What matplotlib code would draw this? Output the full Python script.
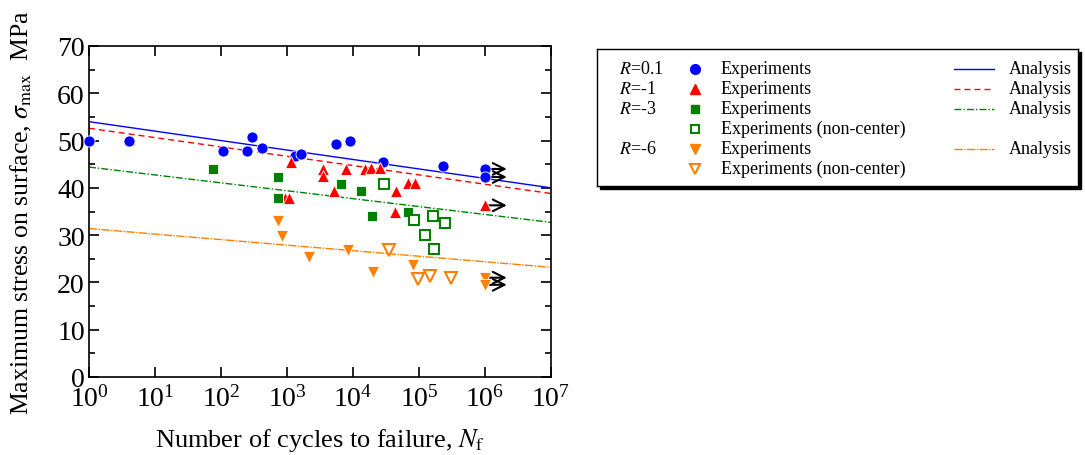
import numpy as np
import matplotlib
matplotlib.use('Agg')
from matplotlib import pyplot as plt
from matplotlib.lines import Line2D
from matplotlib.patches import Rectangle
from matplotlib.ticker import MultipleLocator, LogLocator, LogFormatterMathtext, NullLocator

plt.rcParams['font.family'] = 'Liberation Serif'
plt.rcParams['mathtext.fontset'] = 'stix'

# ---- experiments (cycles, max stress MPa)
r01_n = [1, 4, 108, 250, 295, 415, 1320, 1620, 5450, 9150, 28000, 233000, 1e6, 1e6]
r01_s = [50.0, 50.0, 47.7, 47.7, 50.8, 48.5, 46.8, 47.2, 49.2, 50.0, 45.4, 44.7, 44.0, 42.3]

r1_n = [930, 1070, 1150, 3550, 3550, 5150, 7750, 15100, 18700, 25500, 43700, 44800, 67000, 87000, 1e6]
r1_s = [37.8, 37.8, 45.4, 44.0, 42.6, 39.4, 44.0, 44.0, 44.1, 44.1, 34.9, 39.4, 41.0, 41.0, 36.3]

r3_n = [76, 720, 720, 6500, 13200, 19400, 69000]
r3_s = [43.9, 42.3, 37.8, 40.9, 39.3, 34.0, 34.9]
r3nc_n = [29000, 83000, 123000, 165000, 166000, 250000]
r3nc_s = [40.8, 33.3, 30.1, 34.0, 27.1, 32.6]

r6_n = [740, 850, 2170, 8300, 20000, 80000, 1e6, 1e6]
r6_s = [32.9, 29.9, 25.3, 26.8, 22.3, 23.7, 21.0, 19.5]
r6nc_n = [35000, 95000, 148000, 310000]
r6nc_s = [26.8, 20.7, 21.4, 20.9]

# ---- analysis lines (end points at N=1 and N=1e7)
fit_n = [1, 1e7]
fit_r01 = [54.0, 40.0]
fit_r1 = [52.6, 38.8]
fit_r3 = [44.4, 32.7]
fit_r6 = [31.4, 23.2]

# ---- run-outs
runout_n = 1e6
runout_s = [44.0, 42.3, 36.3, 21.0, 19.5]

blue = '#0000FF'
red = '#FF0000'
green = '#008000'
orange = '#FF8000'

fig = plt.figure(figsize=(10.85, 4.56), dpi=100)
ax = fig.add_axes([89/1085, 1-378/456, (551-89)/1085, (378-47)/456])

ls_r1 = (0, (4.3, 2.9))
ls_r3 = (0, (5, 1.5, 1, 1.5))
ls_r6 = (0, (6, 1, 1, 1))

ax.plot(fit_n, fit_r01, '-', color=blue, lw=1)
ax.plot(fit_n, fit_r1, linestyle=ls_r1, color=red, lw=1)
ax.plot(fit_n, fit_r3, linestyle=ls_r3, color=green, lw=1)
ax.plot(fit_n, fit_r6, linestyle=ls_r6, color=orange, lw=1)

for s in runout_s:
    ax.annotate('', xy=(runout_n*10**0.33, s), xytext=(runout_n, s),
                arrowprops=dict(arrowstyle='->,head_length=0.7,head_width=0.35',
                                color='k', lw=1.5, shrinkA=0, shrinkB=0,
                                mutation_scale=12), zorder=2)

mk = dict(linestyle='none', markeredgewidth=0.6, markeredgecolor='white', zorder=3, clip_on=False)
ax.plot(r01_n, r01_s, 'o', color=blue, markersize=8, **mk)
ax.plot(r1_n, r1_s, '^', color=red, markersize=8.5, **mk)
ax.plot(r3_n, r3_s, 's', color=green, markersize=7, **mk)
ax.plot(r6_n, r6_s, 'v', color=orange, markersize=8.5, **mk)
ax.plot(r3nc_n, r3nc_s, 's', markerfacecolor='white', markeredgecolor=green,
        markeredgewidth=1.5, markersize=6.5, linestyle='none', zorder=3)
ax.plot(r6nc_n, r6nc_s, 'v', markerfacecolor='white', markeredgecolor=orange,
        markeredgewidth=1.5, markersize=8, linestyle='none', zorder=3)

ax.set_xscale('log')
ax.set_xlim(1, 1e7)
ax.set_ylim(0, 70)
ax.xaxis.set_major_locator(LogLocator(base=10, numticks=10))
ax.xaxis.set_major_formatter(LogFormatterMathtext())
ax.xaxis.set_minor_locator(NullLocator())
ax.yaxis.set_major_locator(MultipleLocator(10))
ax.yaxis.set_minor_locator(MultipleLocator(5))
ax.tick_params(which='both', direction='in', top=True, right=True, width=1.2)
ax.tick_params(which='major', length=7.2, labelsize=20)
ax.tick_params(which='minor', length=4.3)
ax.tick_params(axis='x', pad=6)
ax.tick_params(axis='y', pad=3)
for sp in ax.spines.values():
    sp.set_linewidth(1.2)

ax.set_xlabel(r'Number of cycles to failure, $N_{\rm f}$', fontsize=19, labelpad=10)
ax.set_ylabel(r'Maximum stress on surface, $\sigma_{\rm max}$  MPa', fontsize=18.5)
ax.yaxis.set_label_coords(-0.119, 0.5)

# ---- legend box (drawn by hand, with shadow)
L, R_, T, B = 597, 1078, 50, 187
shadow = Rectangle(((L+3)/1085, 1-(B+3)/456), (R_-L)/1085, (B-T)/456,
                   transform=fig.transFigure, facecolor='k', edgecolor='k', zorder=0.5)
fig.patches.append(shadow)
lg = fig.add_axes([L/1085, 1-B/456, (R_-L)/1085, (B-T)/456], zorder=1)
lg.set_xlim(L, R_)
lg.set_ylim(B, T)
lg.set_xticks([])
lg.set_yticks([])
for sp in lg.spines.values():
    sp.set_linewidth(1.0)

rows = [70, 90, 110, 129.5, 149.5, 169.5]
r_labels = ['$R$=0.1', '$R$=-1', '$R$=-3', '', '$R$=-6', '']
exp_labels = ['Experiments', 'Experiments', 'Experiments', 'Experiments (non-center)',
              'Experiments', 'Experiments (non-center)']
leg_markers = [
    dict(marker='o', color=blue, markersize=7),
    dict(marker='^', color=red, markersize=7),
    dict(marker='s', color=green, markersize=6),
    dict(marker='s', markerfacecolor='white', markeredgecolor=green, markeredgewidth=1.5, markersize=5.5),
    dict(marker='v', color=orange, markersize=7),
    dict(marker='v', markerfacecolor='white', markeredgecolor=orange, markeredgewidth=1.5, markersize=6.5),
]
leg_lines = [('-', blue), (ls_r1, red), (ls_r3, green), None, (ls_r6, orange), None]

for y, rl, el, m, ln in zip(rows, r_labels, exp_labels, leg_markers, leg_lines):
    if rl:
        lg.text(619, y, rl, fontsize=13, va='center', ha='left')
    lg.add_line(Line2D([695], [y], linestyle='none', **m))
    lg.text(721, y, el, fontsize=13, va='center', ha='left')
    if ln is not None:
        lg.add_line(Line2D([954, 994], [y, y], linestyle=ln[0], color=ln[1], lw=1))
        lg.text(1009, y, 'Analysis', fontsize=13, va='center', ha='left')

fig.savefig('out.png', dpi=100)
